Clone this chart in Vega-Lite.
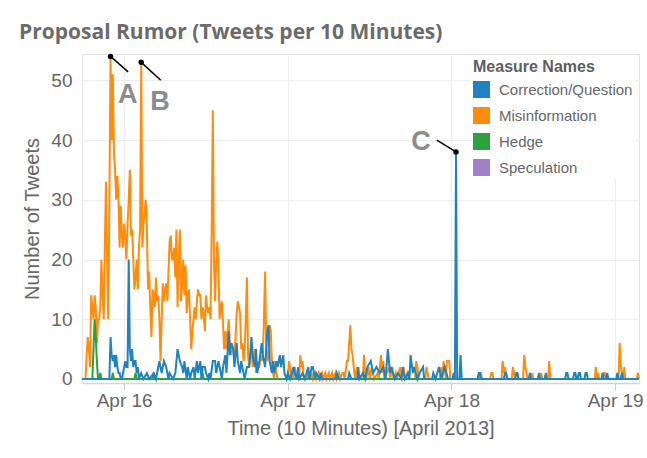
{
  "$schema": "https://vega.github.io/schema/vega-lite/v6.json",
  "autosize": {"type": "none"},
  "width": 557,
  "height": 329,
  "padding": {"left": 82, "top": 54, "right": 8, "bottom": 75},
  "background": "white",
  "title": {"text": "Proposal Rumor (Tweets per 10 Minutes)", "anchor": "start", "frame": "group", "dx": -63, "dy": 21, "offset": 13, "baseline": "alphabetic", "fontSize": 21, "fontWeight": "bold", "color": "#6b6b6b", "font": "Open Sans"},
  "datasets": {
    "spec": [
      {"t": "2013-04-15T17:50", "v": 0}, {"t": "2013-04-17T00:50", "v": 0}, {"t": "2013-04-17T01:00", "v": 2}, {"t": "2013-04-17T01:10", "v": 1}, {"t": "2013-04-17T01:20", "v": 0}, {"t": "2013-04-19T03:30", "v": 0}
    ],
    "misinfo": [
      {"t": "2013-04-15T17:50", "v": 0}, {"t": "2013-04-15T18:20", "v": 0}, {"t": "2013-04-15T18:30", "v": 4}, {"t": "2013-04-15T18:40", "v": 7}, {"t": "2013-04-15T18:50", "v": 5}, {"t": "2013-04-15T19:00", "v": 2},
      {"t": "2013-04-15T19:10", "v": 14}, {"t": "2013-04-15T19:20", "v": 12}, {"t": "2013-04-15T19:30", "v": 10}, {"t": "2013-04-15T19:40", "v": 14}, {"t": "2013-04-15T19:50", "v": 12}, {"t": "2013-04-15T20:00", "v": 6},
      {"t": "2013-04-15T20:10", "v": 10}, {"t": "2013-04-15T20:20", "v": 10}, {"t": "2013-04-15T20:30", "v": 12}, {"t": "2013-04-15T20:40", "v": 20}, {"t": "2013-04-15T20:50", "v": 14}, {"t": "2013-04-15T21:00", "v": 10},
      {"t": "2013-04-15T21:10", "v": 22}, {"t": "2013-04-15T21:20", "v": 33}, {"t": "2013-04-15T21:30", "v": 20}, {"t": "2013-04-15T21:40", "v": 10}, {"t": "2013-04-15T21:50", "v": 30}, {"t": "2013-04-15T22:00", "v": 54},
      {"t": "2013-04-15T22:10", "v": 40}, {"t": "2013-04-15T22:20", "v": 51}, {"t": "2013-04-15T22:30", "v": 38}, {"t": "2013-04-15T22:40", "v": 35}, {"t": "2013-04-15T22:50", "v": 30}, {"t": "2013-04-15T23:00", "v": 34},
      {"t": "2013-04-15T23:10", "v": 30}, {"t": "2013-04-15T23:20", "v": 22}, {"t": "2013-04-15T23:30", "v": 29}, {"t": "2013-04-15T23:40", "v": 24}, {"t": "2013-04-15T23:50", "v": 22},
      {"t": "2013-04-16T00:00", "v": 26}, {"t": "2013-04-16T00:10", "v": 24}, {"t": "2013-04-16T00:20", "v": 20}, {"t": "2013-04-16T00:30", "v": 26}, {"t": "2013-04-16T00:40", "v": 30}, {"t": "2013-04-16T00:50", "v": 35},
      {"t": "2013-04-16T01:00", "v": 24}, {"t": "2013-04-16T01:10", "v": 25}, {"t": "2013-04-16T01:20", "v": 20}, {"t": "2013-04-16T01:30", "v": 15}, {"t": "2013-04-16T01:40", "v": 17}, {"t": "2013-04-16T01:50", "v": 20},
      {"t": "2013-04-16T02:00", "v": 15}, {"t": "2013-04-16T02:10", "v": 22}, {"t": "2013-04-16T02:20", "v": 25}, {"t": "2013-04-16T02:30", "v": 53}, {"t": "2013-04-16T02:40", "v": 22}, {"t": "2013-04-16T02:50", "v": 26},
      {"t": "2013-04-16T03:00", "v": 28}, {"t": "2013-04-16T03:10", "v": 30}, {"t": "2013-04-16T03:20", "v": 25}, {"t": "2013-04-16T03:30", "v": 15}, {"t": "2013-04-16T03:40", "v": 18}, {"t": "2013-04-16T03:50", "v": 12},
      {"t": "2013-04-16T04:00", "v": 7}, {"t": "2013-04-16T04:10", "v": 15}, {"t": "2013-04-16T04:20", "v": 14}, {"t": "2013-04-16T04:30", "v": 12}, {"t": "2013-04-16T04:40", "v": 17}, {"t": "2013-04-16T04:50", "v": 13},
      {"t": "2013-04-16T05:00", "v": 14}, {"t": "2013-04-16T05:10", "v": 10}, {"t": "2013-04-16T05:20", "v": 3}, {"t": "2013-04-16T05:30", "v": 10}, {"t": "2013-04-16T05:40", "v": 16}, {"t": "2013-04-16T05:50", "v": 13},
      {"t": "2013-04-16T06:00", "v": 15}, {"t": "2013-04-16T06:10", "v": 16}, {"t": "2013-04-16T06:20", "v": 13}, {"t": "2013-04-16T06:30", "v": 18}, {"t": "2013-04-16T06:40", "v": 23}, {"t": "2013-04-16T06:50", "v": 24},
      {"t": "2013-04-16T07:00", "v": 20}, {"t": "2013-04-16T07:10", "v": 20}, {"t": "2013-04-16T07:20", "v": 22}, {"t": "2013-04-16T07:30", "v": 17}, {"t": "2013-04-16T07:40", "v": 25}, {"t": "2013-04-16T07:50", "v": 12},
      {"t": "2013-04-16T08:00", "v": 20}, {"t": "2013-04-16T08:10", "v": 25}, {"t": "2013-04-16T08:20", "v": 13}, {"t": "2013-04-16T08:30", "v": 16}, {"t": "2013-04-16T08:40", "v": 20}, {"t": "2013-04-16T08:50", "v": 14},
      {"t": "2013-04-16T09:00", "v": 19}, {"t": "2013-04-16T09:10", "v": 11}, {"t": "2013-04-16T09:20", "v": 14}, {"t": "2013-04-16T09:30", "v": 15}, {"t": "2013-04-16T09:40", "v": 10}, {"t": "2013-04-16T09:50", "v": 5},
      {"t": "2013-04-16T10:00", "v": 8}, {"t": "2013-04-16T10:10", "v": 10}, {"t": "2013-04-16T10:20", "v": 12}, {"t": "2013-04-16T10:30", "v": 10}, {"t": "2013-04-16T10:40", "v": 13}, {"t": "2013-04-16T10:50", "v": 15},
      {"t": "2013-04-16T11:00", "v": 14}, {"t": "2013-04-16T11:10", "v": 14}, {"t": "2013-04-16T11:20", "v": 10}, {"t": "2013-04-16T11:30", "v": 12}, {"t": "2013-04-16T11:40", "v": 11}, {"t": "2013-04-16T11:50", "v": 8},
      {"t": "2013-04-16T12:00", "v": 14}, {"t": "2013-04-16T12:10", "v": 12}, {"t": "2013-04-16T12:20", "v": 11}, {"t": "2013-04-16T12:30", "v": 12}, {"t": "2013-04-16T12:40", "v": 10}, {"t": "2013-04-16T12:50", "v": 25},
      {"t": "2013-04-16T13:00", "v": 45}, {"t": "2013-04-16T13:10", "v": 20}, {"t": "2013-04-16T13:20", "v": 13}, {"t": "2013-04-16T13:30", "v": 20}, {"t": "2013-04-16T13:40", "v": 23}, {"t": "2013-04-16T13:50", "v": 18},
      {"t": "2013-04-16T14:00", "v": 10}, {"t": "2013-04-16T14:10", "v": 12}, {"t": "2013-04-16T14:20", "v": 13}, {"t": "2013-04-16T14:30", "v": 9}, {"t": "2013-04-16T14:40", "v": 5}, {"t": "2013-04-16T14:50", "v": 8},
      {"t": "2013-04-16T15:00", "v": 5}, {"t": "2013-04-16T15:10", "v": 8}, {"t": "2013-04-16T15:20", "v": 10}, {"t": "2013-04-16T15:30", "v": 6}, {"t": "2013-04-16T15:40", "v": 4}, {"t": "2013-04-16T15:50", "v": 6},
      {"t": "2013-04-16T16:00", "v": 5}, {"t": "2013-04-16T16:10", "v": 3}, {"t": "2013-04-16T16:20", "v": 7}, {"t": "2013-04-16T16:30", "v": 11}, {"t": "2013-04-16T16:40", "v": 13}, {"t": "2013-04-16T16:50", "v": 12},
      {"t": "2013-04-16T17:00", "v": 11}, {"t": "2013-04-16T17:10", "v": 5}, {"t": "2013-04-16T17:20", "v": 6}, {"t": "2013-04-16T17:30", "v": 3}, {"t": "2013-04-16T17:40", "v": 5}, {"t": "2013-04-16T17:50", "v": 10},
      {"t": "2013-04-16T18:00", "v": 17}, {"t": "2013-04-16T18:10", "v": 4}, {"t": "2013-04-16T18:20", "v": 2}, {"t": "2013-04-16T18:30", "v": 4}, {"t": "2013-04-16T18:40", "v": 5}, {"t": "2013-04-16T18:50", "v": 2},
      {"t": "2013-04-16T19:00", "v": 4}, {"t": "2013-04-16T19:10", "v": 5}, {"t": "2013-04-16T19:20", "v": 1}, {"t": "2013-04-16T19:30", "v": 3}, {"t": "2013-04-16T19:40", "v": 2}, {"t": "2013-04-16T19:50", "v": 2},
      {"t": "2013-04-16T20:00", "v": 4}, {"t": "2013-04-16T20:10", "v": 3}, {"t": "2013-04-16T20:20", "v": 4}, {"t": "2013-04-16T20:30", "v": 10}, {"t": "2013-04-16T20:40", "v": 18}, {"t": "2013-04-16T20:50", "v": 5},
      {"t": "2013-04-16T21:00", "v": 3}, {"t": "2013-04-16T21:10", "v": 4}, {"t": "2013-04-16T21:20", "v": 9}, {"t": "2013-04-16T21:30", "v": 8}, {"t": "2013-04-16T21:40", "v": 3}, {"t": "2013-04-16T21:50", "v": 1},
      {"t": "2013-04-16T22:00", "v": 0}, {"t": "2013-04-16T22:10", "v": 3}, {"t": "2013-04-16T22:20", "v": 1}, {"t": "2013-04-16T22:30", "v": 0}, {"t": "2013-04-17T00:00", "v": 0},
      {"t": "2013-04-17T00:10", "v": 3}, {"t": "2013-04-17T00:20", "v": 2}, {"t": "2013-04-17T00:30", "v": 0}, {"t": "2013-04-17T00:40", "v": 1}, {"t": "2013-04-17T00:50", "v": 0}, {"t": "2013-04-17T01:40", "v": 0},
      {"t": "2013-04-17T01:50", "v": 4}, {"t": "2013-04-17T02:00", "v": 2}, {"t": "2013-04-17T02:10", "v": 3}, {"t": "2013-04-17T02:20", "v": 0}, {"t": "2013-04-17T02:40", "v": 0}, {"t": "2013-04-17T02:50", "v": 1},
      {"t": "2013-04-17T03:00", "v": 0}, {"t": "2013-04-17T03:10", "v": 1}, {"t": "2013-04-17T03:20", "v": 0}, {"t": "2013-04-17T03:30", "v": 1}, {"t": "2013-04-17T03:40", "v": 0}, {"t": "2013-04-17T04:00", "v": 1},
      {"t": "2013-04-17T04:10", "v": 0}, {"t": "2013-04-17T04:30", "v": 1}, {"t": "2013-04-17T04:40", "v": 0}, {"t": "2013-04-17T05:00", "v": 1}, {"t": "2013-04-17T05:10", "v": 0}, {"t": "2013-04-17T05:30", "v": 1},
      {"t": "2013-04-17T05:40", "v": 0}, {"t": "2013-04-17T06:00", "v": 1}, {"t": "2013-04-17T06:10", "v": 0}, {"t": "2013-04-17T06:30", "v": 1}, {"t": "2013-04-17T06:40", "v": 0}, {"t": "2013-04-17T07:00", "v": 1},
      {"t": "2013-04-17T07:10", "v": 0}, {"t": "2013-04-17T07:30", "v": 1}, {"t": "2013-04-17T07:40", "v": 0}, {"t": "2013-04-17T08:00", "v": 1}, {"t": "2013-04-17T08:10", "v": 1}, {"t": "2013-04-17T08:20", "v": 0},
      {"t": "2013-04-17T08:40", "v": 3}, {"t": "2013-04-17T08:50", "v": 3}, {"t": "2013-04-17T09:00", "v": 6}, {"t": "2013-04-17T09:10", "v": 9}, {"t": "2013-04-17T09:20", "v": 5}, {"t": "2013-04-17T09:30", "v": 4},
      {"t": "2013-04-17T09:40", "v": 2}, {"t": "2013-04-17T09:50", "v": 0}, {"t": "2013-04-17T10:10", "v": 2}, {"t": "2013-04-17T10:20", "v": 0}, {"t": "2013-04-17T11:00", "v": 0}, {"t": "2013-04-17T11:10", "v": 4},
      {"t": "2013-04-17T11:20", "v": 1}, {"t": "2013-04-17T11:30", "v": 0}, {"t": "2013-04-17T11:50", "v": 2}, {"t": "2013-04-17T12:00", "v": 0}, {"t": "2013-04-17T12:20", "v": 2}, {"t": "2013-04-17T12:30", "v": 1},
      {"t": "2013-04-17T12:40", "v": 0}, {"t": "2013-04-17T13:10", "v": 1}, {"t": "2013-04-17T13:20", "v": 0}, {"t": "2013-04-17T13:40", "v": 4}, {"t": "2013-04-17T13:50", "v": 1}, {"t": "2013-04-17T14:00", "v": 3},
      {"t": "2013-04-17T14:10", "v": 0}, {"t": "2013-04-17T14:50", "v": 2}, {"t": "2013-04-17T15:00", "v": 0}, {"t": "2013-04-17T15:20", "v": 2}, {"t": "2013-04-17T15:30", "v": 0}, {"t": "2013-04-17T15:50", "v": 1},
      {"t": "2013-04-17T16:00", "v": 0}, {"t": "2013-04-17T16:30", "v": 2}, {"t": "2013-04-17T16:40", "v": 0}, {"t": "2013-04-17T17:00", "v": 2}, {"t": "2013-04-17T17:10", "v": 0}, {"t": "2013-04-17T17:30", "v": 1},
      {"t": "2013-04-17T17:40", "v": 0}, {"t": "2013-04-17T18:40", "v": 0}, {"t": "2013-04-17T18:50", "v": 3}, {"t": "2013-04-17T19:00", "v": 2}, {"t": "2013-04-17T19:10", "v": 0}, {"t": "2013-04-17T20:10", "v": 0},
      {"t": "2013-04-17T20:20", "v": 2}, {"t": "2013-04-17T20:30", "v": 1}, {"t": "2013-04-17T20:40", "v": 0}, {"t": "2013-04-17T22:20", "v": 0}, {"t": "2013-04-17T22:30", "v": 2}, {"t": "2013-04-17T22:40", "v": 0},
      {"t": "2013-04-17T22:50", "v": 3}, {"t": "2013-04-17T23:00", "v": 2}, {"t": "2013-04-17T23:10", "v": 0}, {"t": "2013-04-17T23:20", "v": 3}, {"t": "2013-04-17T23:30", "v": 3}, {"t": "2013-04-17T23:40", "v": 3},
      {"t": "2013-04-17T23:50", "v": 0}, {"t": "2013-04-18T04:00", "v": 0}, {"t": "2013-04-18T04:10", "v": 1}, {"t": "2013-04-18T04:20", "v": 1}, {"t": "2013-04-18T04:30", "v": 0}, {"t": "2013-04-18T05:40", "v": 0},
      {"t": "2013-04-18T05:50", "v": 1}, {"t": "2013-04-18T06:00", "v": 1}, {"t": "2013-04-18T06:10", "v": 0}, {"t": "2013-04-18T07:20", "v": 0}, {"t": "2013-04-18T07:30", "v": 3}, {"t": "2013-04-18T07:40", "v": 1},
      {"t": "2013-04-18T07:50", "v": 2}, {"t": "2013-04-18T08:00", "v": 1}, {"t": "2013-04-18T08:10", "v": 0}, {"t": "2013-04-18T08:50", "v": 0}, {"t": "2013-04-18T09:00", "v": 2}, {"t": "2013-04-18T09:10", "v": 1},
      {"t": "2013-04-18T09:20", "v": 0}, {"t": "2013-04-18T10:30", "v": 0}, {"t": "2013-04-18T10:40", "v": 4}, {"t": "2013-04-18T10:50", "v": 2}, {"t": "2013-04-18T11:00", "v": 1}, {"t": "2013-04-18T11:10", "v": 0},
      {"t": "2013-04-18T11:40", "v": 0}, {"t": "2013-04-18T11:50", "v": 1}, {"t": "2013-04-18T12:00", "v": 0}, {"t": "2013-04-18T13:00", "v": 0}, {"t": "2013-04-18T13:10", "v": 1}, {"t": "2013-04-18T13:20", "v": 0},
      {"t": "2013-04-18T14:10", "v": 0}, {"t": "2013-04-18T14:20", "v": 3}, {"t": "2013-04-18T14:30", "v": 0}, {"t": "2013-04-18T21:00", "v": 0}, {"t": "2013-04-18T21:10", "v": 2}, {"t": "2013-04-18T21:20", "v": 0},
      {"t": "2013-04-18T21:30", "v": 1}, {"t": "2013-04-18T21:40", "v": 0}, {"t": "2013-04-18T22:10", "v": 0}, {"t": "2013-04-18T22:20", "v": 1}, {"t": "2013-04-18T22:30", "v": 1}, {"t": "2013-04-18T22:40", "v": 0},
      {"t": "2013-04-19T00:30", "v": 0}, {"t": "2013-04-19T00:40", "v": 6}, {"t": "2013-04-19T00:50", "v": 2}, {"t": "2013-04-19T01:00", "v": 1}, {"t": "2013-04-19T01:10", "v": 0}, {"t": "2013-04-19T01:20", "v": 2},
      {"t": "2013-04-19T01:30", "v": 0}, {"t": "2013-04-19T03:10", "v": 0}, {"t": "2013-04-19T03:20", "v": 1}, {"t": "2013-04-19T03:30", "v": 0}
    ],
    "hedge": [
      {"t": "2013-04-15T17:50", "v": 0}, {"t": "2013-04-15T19:20", "v": 0}, {"t": "2013-04-15T19:40", "v": 10}, {"t": "2013-04-15T19:50", "v": 7}, {"t": "2013-04-15T20:00", "v": 3}, {"t": "2013-04-15T20:10", "v": 0},
      {"t": "2013-04-15T20:20", "v": 0}, {"t": "2013-04-15T20:30", "v": 1}, {"t": "2013-04-15T20:40", "v": 0}, {"t": "2013-04-15T22:10", "v": 0}, {"t": "2013-04-15T22:20", "v": 1}, {"t": "2013-04-15T22:30", "v": 0},
      {"t": "2013-04-16T01:30", "v": 0}, {"t": "2013-04-16T01:40", "v": 1}, {"t": "2013-04-16T01:50", "v": 0}, {"t": "2013-04-16T04:10", "v": 0}, {"t": "2013-04-16T04:20", "v": 1}, {"t": "2013-04-16T04:30", "v": 0},
      {"t": "2013-04-16T11:20", "v": 0}, {"t": "2013-04-16T11:30", "v": 1}, {"t": "2013-04-16T11:40", "v": 0}, {"t": "2013-04-19T03:30", "v": 0}
    ],
    "corr": [
      {"t": "2013-04-15T17:50", "v": 0}, {"t": "2013-04-15T21:50", "v": 0}, {"t": "2013-04-15T22:00", "v": 7}, {"t": "2013-04-15T22:10", "v": 4}, {"t": "2013-04-15T22:20", "v": 3}, {"t": "2013-04-15T22:30", "v": 4},
      {"t": "2013-04-15T22:40", "v": 2}, {"t": "2013-04-15T22:50", "v": 4}, {"t": "2013-04-15T23:00", "v": 2}, {"t": "2013-04-15T23:10", "v": 1}, {"t": "2013-04-15T23:20", "v": 1}, {"t": "2013-04-15T23:30", "v": 0},
      {"t": "2013-04-15T23:40", "v": 0}, {"t": "2013-04-15T23:50", "v": 1}, {"t": "2013-04-16T00:00", "v": 2}, {"t": "2013-04-16T00:10", "v": 3}, {"t": "2013-04-16T00:20", "v": 2}, {"t": "2013-04-16T00:30", "v": 2},
      {"t": "2013-04-16T00:40", "v": 20}, {"t": "2013-04-16T00:50", "v": 5}, {"t": "2013-04-16T01:00", "v": 3}, {"t": "2013-04-16T01:10", "v": 5}, {"t": "2013-04-16T01:20", "v": 2}, {"t": "2013-04-16T01:30", "v": 3},
      {"t": "2013-04-16T01:40", "v": 3}, {"t": "2013-04-16T01:50", "v": 1}, {"t": "2013-04-16T02:00", "v": 2}, {"t": "2013-04-16T02:10", "v": 0}, {"t": "2013-04-16T02:30", "v": 1}, {"t": "2013-04-16T02:50", "v": 0},
      {"t": "2013-04-16T03:20", "v": 1}, {"t": "2013-04-16T03:40", "v": 0}, {"t": "2013-04-16T04:20", "v": 1}, {"t": "2013-04-16T04:40", "v": 0}, {"t": "2013-04-16T05:10", "v": 3}, {"t": "2013-04-16T05:30", "v": 1},
      {"t": "2013-04-16T05:50", "v": 3}, {"t": "2013-04-16T06:10", "v": 2}, {"t": "2013-04-16T06:30", "v": 0}, {"t": "2013-04-16T06:40", "v": 1}, {"t": "2013-04-16T07:10", "v": 0}, {"t": "2013-04-16T07:30", "v": 1},
      {"t": "2013-04-16T07:50", "v": 5}, {"t": "2013-04-16T08:10", "v": 3}, {"t": "2013-04-16T08:30", "v": 2}, {"t": "2013-04-16T08:40", "v": 1}, {"t": "2013-04-16T08:50", "v": 3}, {"t": "2013-04-16T09:10", "v": 0},
      {"t": "2013-04-16T09:20", "v": 2}, {"t": "2013-04-16T09:40", "v": 0}, {"t": "2013-04-16T09:50", "v": 1}, {"t": "2013-04-16T10:10", "v": 2}, {"t": "2013-04-16T10:20", "v": 0}, {"t": "2013-04-16T10:40", "v": 3},
      {"t": "2013-04-16T10:50", "v": 1}, {"t": "2013-04-16T11:10", "v": 3}, {"t": "2013-04-16T11:20", "v": 0}, {"t": "2013-04-16T11:30", "v": 2}, {"t": "2013-04-16T11:50", "v": 2}, {"t": "2013-04-16T12:00", "v": 1},
      {"t": "2013-04-16T12:20", "v": 0}, {"t": "2013-04-16T12:30", "v": 1}, {"t": "2013-04-16T12:40", "v": 0}, {"t": "2013-04-16T13:00", "v": 3}, {"t": "2013-04-16T13:20", "v": 3}, {"t": "2013-04-16T13:30", "v": 1},
      {"t": "2013-04-16T13:50", "v": 3}, {"t": "2013-04-16T14:00", "v": 2}, {"t": "2013-04-16T14:20", "v": 0}, {"t": "2013-04-16T14:30", "v": 2}, {"t": "2013-04-16T14:50", "v": 4}, {"t": "2013-04-16T15:00", "v": 1},
      {"t": "2013-04-16T15:20", "v": 8}, {"t": "2013-04-16T15:30", "v": 4}, {"t": "2013-04-16T15:40", "v": 6}, {"t": "2013-04-16T16:00", "v": 5}, {"t": "2013-04-16T16:10", "v": 2}, {"t": "2013-04-16T16:30", "v": 6},
      {"t": "2013-04-16T16:40", "v": 3}, {"t": "2013-04-16T17:00", "v": 1}, {"t": "2013-04-16T17:10", "v": 3}, {"t": "2013-04-16T17:40", "v": 0}, {"t": "2013-04-16T18:00", "v": 2}, {"t": "2013-04-16T18:20", "v": 2},
      {"t": "2013-04-16T18:40", "v": 7}, {"t": "2013-04-16T18:50", "v": 4}, {"t": "2013-04-16T19:10", "v": 2}, {"t": "2013-04-16T19:20", "v": 5}, {"t": "2013-04-16T19:30", "v": 1}, {"t": "2013-04-16T19:50", "v": 3},
      {"t": "2013-04-16T20:10", "v": 6}, {"t": "2013-04-16T20:20", "v": 4}, {"t": "2013-04-16T20:40", "v": 2}, {"t": "2013-04-16T20:50", "v": 5}, {"t": "2013-04-16T21:00", "v": 8}, {"t": "2013-04-16T21:10", "v": 9},
      {"t": "2013-04-16T21:20", "v": 3}, {"t": "2013-04-16T21:40", "v": 1}, {"t": "2013-04-16T21:50", "v": 3}, {"t": "2013-04-16T22:00", "v": 1}, {"t": "2013-04-16T22:20", "v": 3}, {"t": "2013-04-16T22:30", "v": 2},
      {"t": "2013-04-16T22:50", "v": 4}, {"t": "2013-04-16T23:00", "v": 2}, {"t": "2013-04-16T23:20", "v": 4}, {"t": "2013-04-16T23:30", "v": 1}, {"t": "2013-04-16T23:50", "v": 0}, {"t": "2013-04-17T00:00", "v": 1},
      {"t": "2013-04-17T00:20", "v": 0}, {"t": "2013-04-17T00:50", "v": 2}, {"t": "2013-04-17T01:00", "v": 1}, {"t": "2013-04-17T01:20", "v": 0}, {"t": "2013-04-17T01:30", "v": 2}, {"t": "2013-04-17T01:40", "v": 0},
      {"t": "2013-04-17T02:10", "v": 1}, {"t": "2013-04-17T02:30", "v": 0}, {"t": "2013-04-17T03:00", "v": 2}, {"t": "2013-04-17T03:10", "v": 0}, {"t": "2013-04-17T03:30", "v": 2}, {"t": "2013-04-17T03:40", "v": 2},
      {"t": "2013-04-17T04:00", "v": 0}, {"t": "2013-04-17T04:10", "v": 1}, {"t": "2013-04-17T04:40", "v": 0}, {"t": "2013-04-17T04:50", "v": 1}, {"t": "2013-04-17T05:00", "v": 0}, {"t": "2013-04-17T07:00", "v": 0},
      {"t": "2013-04-17T07:10", "v": 1}, {"t": "2013-04-17T07:30", "v": 0}, {"t": "2013-04-17T08:50", "v": 0}, {"t": "2013-04-17T09:00", "v": 1}, {"t": "2013-04-17T09:20", "v": 0}, {"t": "2013-04-17T10:10", "v": 0},
      {"t": "2013-04-17T10:20", "v": 2}, {"t": "2013-04-17T10:30", "v": 0}, {"t": "2013-04-17T11:00", "v": 1}, {"t": "2013-04-17T11:20", "v": 0}, {"t": "2013-04-17T11:40", "v": 2}, {"t": "2013-04-17T12:10", "v": 3},
      {"t": "2013-04-17T12:30", "v": 1}, {"t": "2013-04-17T13:00", "v": 2}, {"t": "2013-04-17T13:30", "v": 1}, {"t": "2013-04-17T14:00", "v": 2}, {"t": "2013-04-17T14:20", "v": 0}, {"t": "2013-04-17T14:40", "v": 5},
      {"t": "2013-04-17T15:00", "v": 1}, {"t": "2013-04-17T15:10", "v": 2}, {"t": "2013-04-17T15:40", "v": 0}, {"t": "2013-04-17T16:10", "v": 1}, {"t": "2013-04-17T16:40", "v": 0}, {"t": "2013-04-17T16:50", "v": 2},
      {"t": "2013-04-17T17:10", "v": 0}, {"t": "2013-04-17T17:40", "v": 1}, {"t": "2013-04-17T17:50", "v": 0}, {"t": "2013-04-17T18:00", "v": 4}, {"t": "2013-04-17T18:20", "v": 1}, {"t": "2013-04-17T18:30", "v": 2},
      {"t": "2013-04-17T19:00", "v": 0}, {"t": "2013-04-17T19:20", "v": 1}, {"t": "2013-04-17T19:50", "v": 2}, {"t": "2013-04-17T20:00", "v": 0}, {"t": "2013-04-17T21:10", "v": 0}, {"t": "2013-04-17T21:20", "v": 1},
      {"t": "2013-04-17T21:40", "v": 0}, {"t": "2013-04-17T22:10", "v": 2}, {"t": "2013-04-17T22:30", "v": 0}, {"t": "2013-04-17T23:00", "v": 2}, {"t": "2013-04-17T23:30", "v": 0}, {"t": "2013-04-18T00:10", "v": 0},
      {"t": "2013-04-18T00:20", "v": 1}, {"t": "2013-04-18T00:30", "v": 0}, {"t": "2013-04-18T00:40", "v": 38}, {"t": "2013-04-18T00:50", "v": 0}, {"t": "2013-04-18T01:10", "v": 0}, {"t": "2013-04-18T01:20", "v": 4},
      {"t": "2013-04-18T01:30", "v": 0}, {"t": "2013-04-18T03:50", "v": 0}, {"t": "2013-04-18T04:00", "v": 1}, {"t": "2013-04-18T04:10", "v": 1}, {"t": "2013-04-18T04:20", "v": 0}, {"t": "2013-04-18T07:40", "v": 0},
      {"t": "2013-04-18T07:50", "v": 1}, {"t": "2013-04-18T08:00", "v": 1}, {"t": "2013-04-18T08:10", "v": 0}, {"t": "2013-04-18T09:20", "v": 0}, {"t": "2013-04-18T09:30", "v": 1}, {"t": "2013-04-18T09:40", "v": 1},
      {"t": "2013-04-18T09:50", "v": 0}, {"t": "2013-04-18T11:20", "v": 0}, {"t": "2013-04-18T11:30", "v": 1}, {"t": "2013-04-18T11:40", "v": 0}, {"t": "2013-04-18T12:40", "v": 0}, {"t": "2013-04-18T12:50", "v": 1},
      {"t": "2013-04-18T13:00", "v": 0}, {"t": "2013-04-18T13:40", "v": 0}, {"t": "2013-04-18T13:50", "v": 1}, {"t": "2013-04-18T14:00", "v": 0}, {"t": "2013-04-18T16:40", "v": 0}, {"t": "2013-04-18T16:50", "v": 1},
      {"t": "2013-04-18T17:00", "v": 1}, {"t": "2013-04-18T17:10", "v": 0}, {"t": "2013-04-18T17:50", "v": 0}, {"t": "2013-04-18T18:00", "v": 1}, {"t": "2013-04-18T18:10", "v": 1}, {"t": "2013-04-18T18:20", "v": 0},
      {"t": "2013-04-18T18:30", "v": 0}, {"t": "2013-04-18T18:40", "v": 1}, {"t": "2013-04-18T18:50", "v": 1}, {"t": "2013-04-18T19:00", "v": 0}, {"t": "2013-04-18T19:30", "v": 0}, {"t": "2013-04-18T19:40", "v": 1},
      {"t": "2013-04-18T19:50", "v": 1}, {"t": "2013-04-18T20:00", "v": 0}, {"t": "2013-04-18T22:00", "v": 0}, {"t": "2013-04-18T22:10", "v": 1}, {"t": "2013-04-18T22:20", "v": 0}, {"t": "2013-04-18T22:40", "v": 0},
      {"t": "2013-04-18T22:50", "v": 1}, {"t": "2013-04-18T23:00", "v": 0}, {"t": "2013-04-19T00:10", "v": 0}, {"t": "2013-04-19T00:20", "v": 1}, {"t": "2013-04-19T00:30", "v": 0}, {"t": "2013-04-19T00:50", "v": 0},
      {"t": "2013-04-19T01:00", "v": 1}, {"t": "2013-04-19T01:10", "v": 0}, {"t": "2013-04-19T03:30", "v": 0}
    ],
    "dots": [
      {"t": "2013-04-15T22:00", "v": 54}, {"t": "2013-04-16T02:30", "v": 53}, {"t": "2013-04-18T00:40", "v": 38}
    ],
    "leaders": [
      {"t": "2013-04-15T22:00", "v": 54, "t2": "2013-04-16T00:35", "v2": 51.4},
      {"t": "2013-04-16T02:30", "v": 53, "t2": "2013-04-16T05:22", "v2": 50.0},
      {"t": "2013-04-18T00:40", "v": 38, "t2": "2013-04-17T21:51", "v2": 40.0}
    ],
    "letters": [
      {"t": "2013-04-16T00:31", "v": 46.2, "label": "A"},
      {"t": "2013-04-16T05:16", "v": 45.1, "label": "B"},
      {"t": "2013-04-17T19:32", "v": 38.4, "label": "C"}
    ]
  },
  "encoding": {
    "x": {
      "field": "t", "type": "temporal",
      "scale": {"domain": [{"year": 2013, "month": 4, "date": 15, "hours": 17, "minutes": 49}, {"year": 2013, "month": 4, "date": 19, "hours": 3, "minutes": 30}], "nice": false},
      "axis": {
        "title": "Time (10 Minutes) [April 2013]",
        "tickCount": {"interval": "day", "step": 1},
        "format": "%b %d",
        "labelOverlap": false,
        "labelFlush": false,
        "labelFontSize": 19, "labelColor": "#666666", "labelPadding": 1,
        "tickSize": 7,
        "tickColor": "#cccccc",
        "domainColor": "#d4d4d4", "domainWidth": 1.5,
        "grid": true,
        "gridColor": "#ececec",
        "titleFontSize": 20, "titleColor": "#666666", "titleFontWeight": "normal", "titlePadding": 8
      }
    },
    "y": {
      "field": "v", "type": "quantitative",
      "scale": {"domain": [-0.67, 54.4], "nice": false, "zero": false},
      "axis": {
        "title": "Number of Tweets",
        "values": [0, 10, 20, 30, 40, 50],
        "ticks": false, "domain": false,
        "grid": true, "gridColor": "#ececec",
        "labelFontSize": 19, "labelColor": "#666666", "labelPadding": 10,
        "titleFontSize": 20, "titleColor": "#666666", "titleFontWeight": "normal", "titlePadding": 8
      }
    }
  },
  "layer": [
    {
      "data": {"name": "spec"},
      "mark": {"type": "line", "strokeWidth": 2},
      "encoding": {
        "color": {
          "datum": "Speculation", "type": "nominal",
          "scale": {"domain": ["Correction/Question", "Misinformation", "Hedge", "Speculation"], "range": ["#1f83c1", "#ff8c0a", "#2ca33a", "#a27fc7"]},
          "legend": {
            "title": "Measure Names", "orient": "none", "legendX": 388, "legendY": 2,
            "symbolType": "square", "symbolSize": 64, "symbolStrokeWidth": 9,
            "clipHeight": 17, "rowPadding": 9, "labelFontSize": 15, "labelColor": "#666666", "labelOffset": 9,
            "titleFontSize": 16, "titleFontWeight": "bold", "titleColor": "#5e5e5e", "titlePadding": 6,
            "padding": 3, "fillColor": "white"
          }
        }
      }
    },
    {
      "data": {"name": "misinfo"},
      "mark": {"type": "line", "strokeWidth": 2},
      "encoding": {"color": {"datum": "Misinformation", "type": "nominal", "scale": {"domain": ["Correction/Question", "Misinformation", "Hedge", "Speculation"], "range": ["#1f83c1", "#ff8c0a", "#2ca33a", "#a27fc7"]}}}
    },
    {
      "data": {"name": "hedge"},
      "mark": {"type": "line", "strokeWidth": 2},
      "encoding": {"color": {"datum": "Hedge", "type": "nominal", "scale": {"domain": ["Correction/Question", "Misinformation", "Hedge", "Speculation"], "range": ["#1f83c1", "#ff8c0a", "#2ca33a", "#a27fc7"]}}}
    },
    {
      "data": {"name": "corr"},
      "mark": {"type": "line", "strokeWidth": 2},
      "encoding": {"color": {"datum": "Correction/Question", "type": "nominal", "scale": {"domain": ["Correction/Question", "Misinformation", "Hedge", "Speculation"], "range": ["#1f83c1", "#ff8c0a", "#2ca33a", "#a27fc7"]}}}
    },
    {
      "data": {"name": "leaders"},
      "mark": {"type": "rule", "color": "black", "strokeWidth": 1.5},
      "encoding": {"x2": {"field": "t2"}, "y2": {"field": "v2"}}
    },
    {
      "data": {"name": "dots"},
      "mark": {"type": "point", "filled": true, "color": "black", "size": 30, "opacity": 1},
      "encoding": {}
    },
    {
      "data": {"name": "letters"},
      "mark": {"type": "text", "fontSize": 27, "fontWeight": "bold", "color": "#8c8c8c", "align": "center", "baseline": "alphabetic", "font": "Liberation Sans"},
      "encoding": {"text": {"field": "label"}}
    }
  ],
  "config": {
    "font": "Liberation Sans",
    "view": {"stroke": "#e4e4e4", "strokeWidth": 1}
  }
}
